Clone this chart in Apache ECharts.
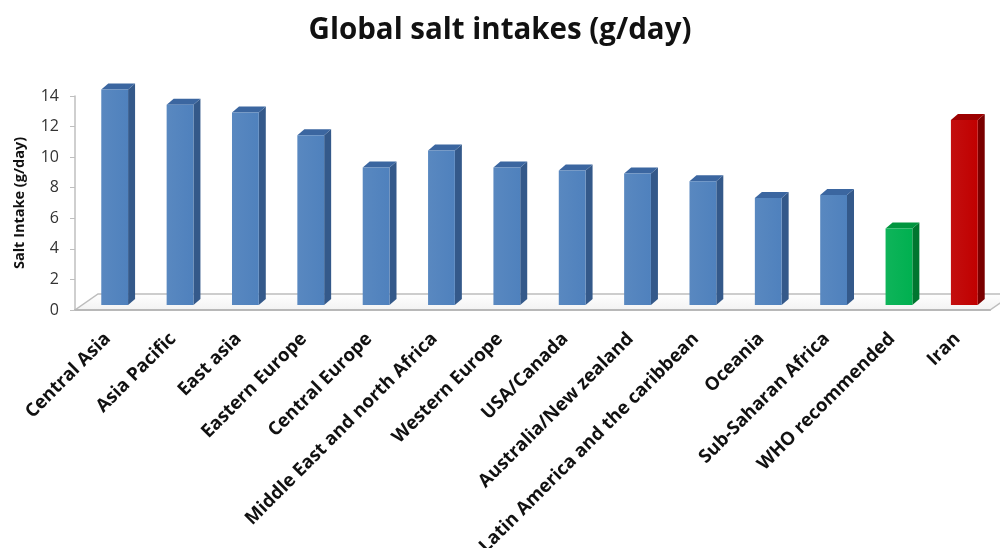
<!DOCTYPE html>
<html>
<head>
<meta charset="utf-8">
<script src="https://cdn.jsdelivr.net/npm/echarts@6/dist/echarts.min.js"></script>
<style>
  html, body { margin: 0; padding: 0; background: #fff; }
  #chart { width: 1000px; height: 548px; }
</style>
</head>
<body>
<div id="chart"></div>
<script>
var regions = ['Central Asia', 'Asia Pacific', 'East asia', 'Eastern Europe', 'Central Europe',
  'Middle East and north Africa', 'Western Europe', 'USA/Canada', 'Australia/New zealand',
  'Latin America and the caribbean', 'Oceania', 'Sub-Saharan Africa', 'WHO recommended', 'Iran'];
var intake = [14.1, 13.1, 12.6, 11.1, 9.0, 10.1, 9.0, 8.8, 8.6, 8.1, 7.0, 7.2, 5.0, 12.1];

// colours: front, side, top
var blue = ['#4f81bd', '#34598a', '#3b66a0'];
var special = {
  'WHO recommended': ['#00b050', '#00762f', '#01953f'],
  'Iran': ['#c00000', '#7a0000', '#9c0000']
};

var chart = echarts.init(document.getElementById('chart'));

function bar3d(params, api) {
  var idx = api.value(0);
  var top = api.coord([idx, api.value(1)]);
  var base = api.coord([idx, 0]);
  var w = api.size([1, 0])[0] * 0.41;
  var off = [7, -5];   // bars sit mid-depth on the floor
  var d = [7, -6];     // bar depth
  var c = special[regions[idx]] || blue;
  var x0 = top[0] + off[0] - w / 2, x1 = x0 + w;
  var yt = top[1] + off[1], yb = base[1] + off[1];
  return {
    type: 'group',
    children: [
      { type: 'polygon', shape: { points: [[x1, yt], [x1 + d[0], yt + d[1]], [x1 + d[0], yb + d[1]], [x1, yb]] },
        style: { fill: c[1] } },
      { type: 'polygon', shape: { points: [[x0, yt], [x0 + d[0], yt + d[1]], [x1 + d[0], yt + d[1]], [x1, yt]] },
        style: { fill: c[2] } },
      { type: 'rect', shape: { x: x0, y: yt, width: w, height: yb - yt },
        style: { fill: new echarts.graphic.LinearGradient(0, 0, 1, 0, [
          { offset: 0, color: echarts.color.lift(c[0], 0.06) },
          { offset: 1, color: c[0] }
        ]) } }
    ]
  };
}

var option = {
  animation: false,
  title: {
    text: 'Global salt intakes (g/day)',
    left: 'center',
    top: 11,
    textStyle: { fontFamily: 'Open Sans', fontWeight: 'bold', fontSize: 29.5, color: '#111' }
  },
  grid: { left: 75, right: 10, top: 96, bottom: 238, outerBoundsMode: 'none', containLabel: false },
  xAxis: {
    type: 'category',
    data: regions,
    axisLine: { lineStyle: { color: '#b8b8b8', width: 2 } },
    axisTick: { show: false },
    axisLabel: {
      interval: 0, rotate: 45, margin: 26,
      fontFamily: 'Open Sans', fontWeight: 'bold', fontSize: 18.5, color: '#111'
    }
  },
  yAxis: {
    type: 'value',
    min: 0, max: 14, interval: 2,
    name: 'Salt Intake (g/day)',
    nameLocation: 'middle',
    nameGap: 48,
    nameTextStyle: { fontFamily: 'Open Sans', fontWeight: 'bold', fontSize: 14.5, color: '#111' },
    axisLine: { show: true, lineStyle: { color: '#bfbfbf', width: 1.5 } },
    axisTick: { show: true, length: 5, lineStyle: { color: '#bfbfbf' } },
    axisLabel: { fontFamily: 'Open Sans', fontSize: 16, color: '#333', margin: 16 },
    splitLine: { show: false }
  },
  series: [{
    type: 'custom',
    renderItem: bar3d,
    encode: { x: 0, y: 1 },
    data: intake.map(function (v, i) { return [i, v]; })
  }]
};
chart.setOption(option);

// floor of the 3D plot area, placed from the axis scale
var gridRect = chart.getModel().getComponent('grid').coordinateSystem.getRect();
var y0 = chart.convertToPixel({ yAxisIndex: 0 }, 0);
var xl = gridRect.x, xr = gridRect.x + gridRect.width;
chart.setOption({
  graphic: [{
    type: 'polygon',
    z: -1,
    shape: { points: [[xl, y0], [xr, y0], [xr + 23, y0 - 16], [xl + 23, y0 - 16]] },
    style: {
      fill: new echarts.graphic.LinearGradient(0, 0, 0, 1, [
        { offset: 0, color: '#ffffff' }, { offset: 1, color: '#f2f2f2' }
      ]),
      stroke: '#bdbdbd', lineWidth: 1.5
    }
  }]
});
</script>
</body>
</html>
